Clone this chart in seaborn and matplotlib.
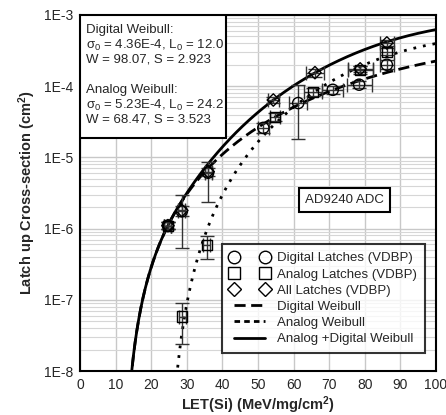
import numpy as np
import matplotlib
matplotlib.use("Agg")
import matplotlib.pyplot as plt
import matplotlib.ticker as mticker
from matplotlib.patches import Rectangle
from matplotlib.lines import Line2D
import seaborn as sns

sns.set_style("white")
plt.rcParams['font.family'] = ['Liberation Sans', 'DejaVu Sans']
plt.rcParams['mathtext.fontset'] = 'custom'
plt.rcParams['mathtext.rm'] = 'Liberation Sans'
plt.rcParams['mathtext.it'] = 'Liberation Sans'
plt.rcParams['mathtext.bf'] = 'Liberation Sans:bold'
plt.rcParams['mathtext.default'] = 'regular'
plt.rcParams['lines.scale_dashes'] = False

# Weibull fit parameters (sigma0, L0, W, S)
digital_fit = (4.36e-4, 12.0, 98.07, 2.923)
analog_fit = (5.23e-4, 24.2, 68.47, 3.523)

# Digital latches (circles)
dig_let = [24.7, 28.6, 36.0, 51.5, 61.3, 71.0, 78.4, 86.2]
dig_xs = [1.1e-6, 1.75e-6, 6.1e-6, 2.6e-5, 5.8e-5, 8.9e-5, 1.05e-4, 2.0e-4]
dig_lo = [1.0e-6, 5.4e-7, 2.4e-6, 2.2e-5, 1.8e-5, 7.8e-5, 9.3e-5, 1.75e-4]
dig_hi = [1.25e-6, 3.0e-6, 8.7e-6, 3.0e-5, 1.05e-4, 1.0e-4, 1.2e-4, 2.3e-4]
dig_xerr = [1.0, 1.0, 1.0, 1.5, 2.5, 3.0, 3.5, 2.0]

# Analog latches (squares)
ana_let = [24.7, 28.7, 35.6, 54.8, 65.5, 78.7, 86.2]
ana_xs = [1.1e-6, 5.8e-8, 5.9e-7, 3.7e-5, 8.3e-5, 1.7e-4, 3.05e-4]
ana_lo = [1.0e-6, 2.4e-8, 3.8e-7, 3.2e-5, 7.2e-5, 1.5e-4, 2.7e-4]
ana_hi = [1.25e-6, 9.1e-8, 7.8e-7, 4.2e-5, 9.5e-5, 1.95e-4, 3.4e-4]
ana_xerr = [1.0, 1.0, 1.0, 1.5, 2.5, 3.5, 2.0]

# All latches (diamonds)
all_let = [24.7, 28.6, 36.0, 54.3, 66.0, 78.7, 86.2]
all_xs = [1.1e-6, 1.8e-6, 6.3e-6, 6.4e-5, 1.55e-4, 1.75e-4, 4.05e-4]
all_lo = [1.0e-6, 1.5e-6, 5.5e-6, 5.8e-5, 1.35e-4, 1.6e-4, 3.7e-4]
all_hi = [1.25e-6, 2.1e-6, 7.2e-6, 7.1e-5, 1.75e-4, 1.95e-4, 4.5e-4]
all_xerr = [1.0, 1.0, 1.0, 1.5, 2.5, 3.5, 2.0]


def weibull(L, s0, L0, W, S):
    out = np.zeros_like(L)
    m = L > L0
    out[m] = s0 * (1 - np.exp(-(((L[m] - L0) / W) ** S)))
    return out


let_grid = np.linspace(0, 100, 2001)
dig_curve = weibull(let_grid, *digital_fit)
ana_curve = weibull(let_grid, *analog_fit)
sum_curve = dig_curve + ana_curve

DIG_DASH = [8, 4]
ANA_DASH = [2, 5]
LEG_ANA_DASH = [4, 3]

fig = plt.figure(figsize=(4.46, 4.15), dpi=100)
ax = fig.add_axes([80 / 446, 1 - 371 / 415, 356 / 446, 356 / 415])

ax.set_yscale('log')
ax.set_xlim(0, 100)
ax.set_ylim(1e-8, 1e-3)

# grid
ax.xaxis.set_major_locator(mticker.MultipleLocator(10))
ax.yaxis.set_major_locator(mticker.LogLocator(base=10, numticks=10))
ax.yaxis.set_minor_locator(mticker.LogLocator(base=10, subs=np.arange(2, 10), numticks=20))
ax.yaxis.set_minor_formatter(mticker.NullFormatter())
ax.grid(True, which='major', axis='both', color='#c8c8c8', lw=1.0, zorder=0)
ax.grid(True, which='minor', axis='y', color='#d6d6d6', lw=0.8, zorder=0)
ax.set_axisbelow(True)

ax.yaxis.set_major_formatter(mticker.FuncFormatter(lambda v, p: "1E%d" % round(np.log10(v))))
ax.tick_params(axis='both', which='both', length=0, labelsize=10, pad=5)
for s in ax.spines.values():
    s.set_color('black')
    s.set_linewidth(1.5)

# curves
m = dig_curve > 0
sns.lineplot(x=let_grid[m], y=dig_curve[m], ax=ax, color='black', lw=2.0,
             label='_nolegend_', zorder=3)
ax.lines[-1].set_dashes(DIG_DASH)
m = ana_curve > 0
sns.lineplot(x=let_grid[m], y=ana_curve[m], ax=ax, color='black', lw=2.0,
             label='_nolegend_', zorder=3)
ax.lines[-1].set_dashes(ANA_DASH)
m = sum_curve > 0
sns.lineplot(x=let_grid[m], y=sum_curve[m], ax=ax, color='black', lw=2.0,
             label='_nolegend_', zorder=3)


def draw_points(L, y, lo, hi, xe, marker, ms):
    y = np.array(y)
    yerr = [y - np.array(lo), np.array(hi) - y]
    ax.errorbar(L, y, xerr=xe, yerr=yerr, fmt='none', ecolor='#333333', elinewidth=1.0,
                capsize=5, capthick=1.0, zorder=4)
    sns.scatterplot(x=L, y=y, ax=ax, marker=marker, s=ms, facecolor='none',
                    edgecolor='black', linewidth=1.0, zorder=5, legend=False)


draw_points(dig_let, dig_xs, dig_lo, dig_hi, dig_xerr, 'o', 65)
draw_points(ana_let, ana_xs, ana_lo, ana_hi, ana_xerr, 's', 55)
draw_points(all_let, all_xs, all_lo, all_hi, all_xerr, 'D', 40)

# parameter box
ax.add_patch(Rectangle((0, 1 - 123 / 356), 146 / 356, 123 / 356, transform=ax.transAxes,
                       facecolor='white', edgecolor='black', lw=1.5, zorder=6))
lines = ["Digital Weibull:",
         r"$\sigma_0$ = 4.36E-4, L$_0$ = 12.0",
         "W = 98.07, S = 2.923",
         "",
         "Analog Weibull:",
         r"$\sigma_0$ = 5.23E-4, L$_0$ = 24.2",
         "W = 68.47, S = 3.523"]
for i, t in enumerate(lines):
    ax.text(6 / 356, 1 - (15 + 15 * i) / 356, t, transform=ax.transAxes, fontsize=9.5,
            va='center', ha='left', zorder=7)

ax.text(74.2, 2.5e-6, "AD9240 ADC", fontsize=9.5, ha='center', va='center', zorder=7,
        bbox=dict(boxstyle='square,pad=0.45', facecolor='white', edgecolor='black', lw=1.5))

# legend
handles = [
    Line2D([], [], marker='o', ls='none', mfc='none', mec='black', ms=9),
    Line2D([], [], marker='s', ls='none', mfc='none', mec='black', ms=8.5),
    Line2D([], [], marker='D', ls='none', mfc='none', mec='black', ms=7.5),
    Line2D([], [], color='black', lw=2, dashes=DIG_DASH),
    Line2D([], [], color='black', lw=2, dashes=LEG_ANA_DASH),
    Line2D([], [], color='black', lw=2),
]
labels = ["Digital Latches (VDBP)", "Analog Latches (VDBP)", "All Latches (VDBP)",
          "Digital Weibull", "Analog Weibull", "Analog +Digital Weibull"]
leg = ax.legend(handles, labels, loc='lower right', bbox_to_anchor=(0.969, 0.05),
                borderaxespad=0, fontsize=9.5, numpoints=2, frameon=True, fancybox=False,
                handlelength=3.0, handletextpad=0.6, labelspacing=0.3, borderpad=0.6)
leg.get_frame().set_edgecolor('black')
leg.get_frame().set_linewidth(1.5)
leg.set_zorder(8)

ax.set_xlabel("LET(Si) (MeV/mg/cm$^{2}$)", fontsize=10.5, fontweight='bold', labelpad=2)
ax.set_ylabel("Latch up Cross-section (cm$^{2}$)", fontsize=10.5, fontweight='bold', labelpad=4)

fig.savefig("out.png", dpi=100)
